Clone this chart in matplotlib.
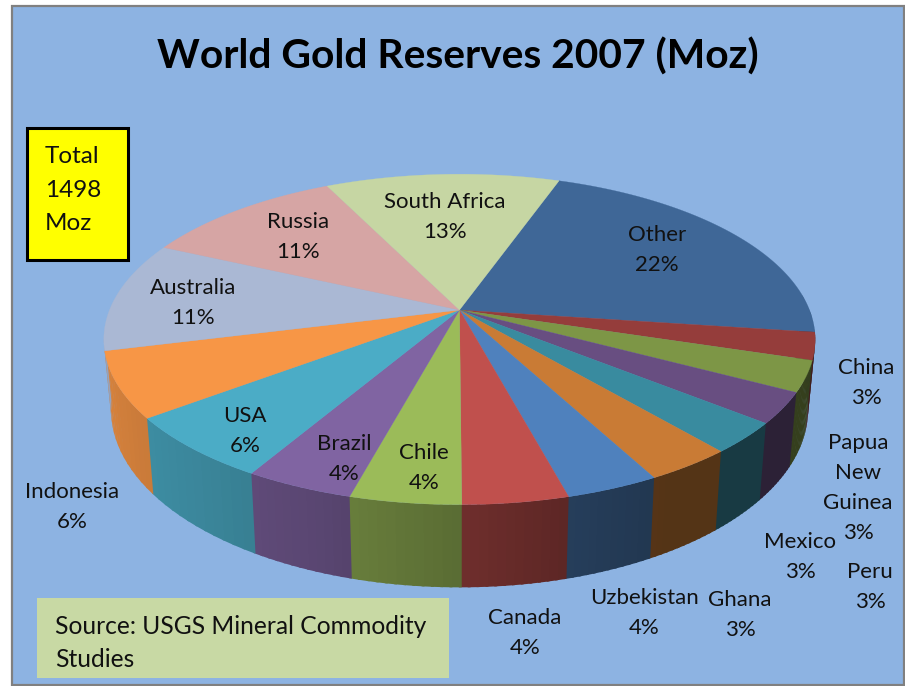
import numpy as np
import matplotlib
matplotlib.use("Agg")
import matplotlib.pyplot as plt
from matplotlib.patches import Rectangle

plt.rcParams['font.family'] = ['Lato', 'DejaVu Sans']

# Reserves in Moz (clockwise from the South Africa / Other edge)
countries = ["Other", "China", "Papua\nNew\nGuinea", "Mexico", "Peru", "Ghana", "Uzbekistan",
             "Canada", "Chile", "Brazil", "USA", "Indonesia", "Australia", "Russia", "South Africa"]
reserves = [326, 40, 45, 45, 45, 51, 54, 61, 64, 63, 94, 96, 162, 163, 189]
top_colors = ["#3F6797", "#953D3B", "#7D9646", "#684E81", "#398B9F", "#C97B35", "#4F81BD",
              "#C0504D", "#9BBB59", "#8064A2", "#4BACC6", "#F79646", "#AAB8D4", "#D6A5A4", "#C6D6A3"]
# baseline of the first label line, pixel coords
label_x = [657, 866, 858, 800, 870, 740, 644, 525, 424, 344, 245, 72, 193, 298, 445]
label_y = [241, 374, 449, 548, 578, 606, 604, 624, 459, 450, 422, 498, 294, 228, 208]

start_angle = 19.4
cx, cy = 459.5, 310
rx, ry, persp = 350, 160, 0.178
depth, shrink = 68, 0.98
LINE = 30

# how dark the wall gets going round the front
shade_angle = [100, 150, 165, 180, 200, 220, 250, 270]
shade_value = [0.42, 0.42, 0.48, 0.58, 0.70, 0.78, 0.86, 0.90]


def project(theta, bottom=False):
    t = np.radians(theta)
    x, y = np.sin(t), np.cos(t)
    w = 1 / (1 + persp * y)
    sx = rx * x * w
    sy = -ry * y * w
    if bottom:
        return cx + sx * shrink, cy + sy + depth * w
    return cx + sx, cy + sy


fig = plt.figure(figsize=(9.05, 6.86), dpi=100, facecolor="white")
ax = fig.add_axes([0, 0, 1, 1])
ax.set_xlim(0, 905)
ax.set_ylim(686, 0)
ax.axis("off")

ax.add_patch(Rectangle((12, 6), 892, 679, fc="#8DB3E2", ec="#808080", lw=1.6))

total = sum(reserves)
edges = start_angle + np.cumsum([0] + reserves) / total * 360

# walls, only the slices facing us; quads overlap a bit so no seams show
for i, col in enumerate(top_colors):
    rgb = np.array(matplotlib.colors.to_rgb(col))
    steps = np.linspace(edges[i], edges[i + 1], 13)
    for a, b in zip(steps[:-1], steps[1:]):
        mid = (a + b) / 2
        if not 85 < mid < 262:
            continue
        tx, ty = project(np.array([a, b + 0.4]))
        bx, by = project(np.array([b + 0.4, a]), bottom=True)
        c = rgb * np.interp(mid, shade_angle, shade_value)
        ax.fill(np.r_[tx, bx], np.r_[ty, by], color=c, lw=0)

# top face
for i, col in enumerate(top_colors):
    th = np.linspace(edges[i], edges[i + 1], 60)
    px, py = project(th)
    ax.fill(np.r_[cx, px], np.r_[cy, py], color=col, lw=0.2)

for name, val, lx, ly in zip(countries, reserves, label_x, label_y):
    lines = name.split("\n") + [f"{val / total * 100:.0f}%"]
    for j, line in enumerate(lines):
        ax.text(lx, ly + j * LINE, line, ha="center", va="baseline", fontsize=16, color="#111111")

ax.text(458, 69, "World Gold Reserves 2007 (Moz)", ha="center", va="baseline",
        fontsize=29.3, fontweight="bold", color="black")

ax.add_patch(Rectangle((26.5, 127.5), 101, 132, fc="#FFFF00", ec="black", lw=2.2))
for txt, y in zip(["Total", "1498", "Moz"], [163, 197, 230]):
    ax.text(45, y, txt, ha="left", va="baseline", fontsize=17.5, color="#111111")

ax.add_patch(Rectangle((37, 598), 412, 80, fc="#C8D9A4", ec="none"))
ax.text(55, 634, "Source: USGS Mineral Commodity", ha="left", va="baseline", fontsize=17.7, color="#111111")
ax.text(55, 667, "Studies", ha="left", va="baseline", fontsize=17.7, color="#111111")

fig.savefig("out.png", dpi=100)
